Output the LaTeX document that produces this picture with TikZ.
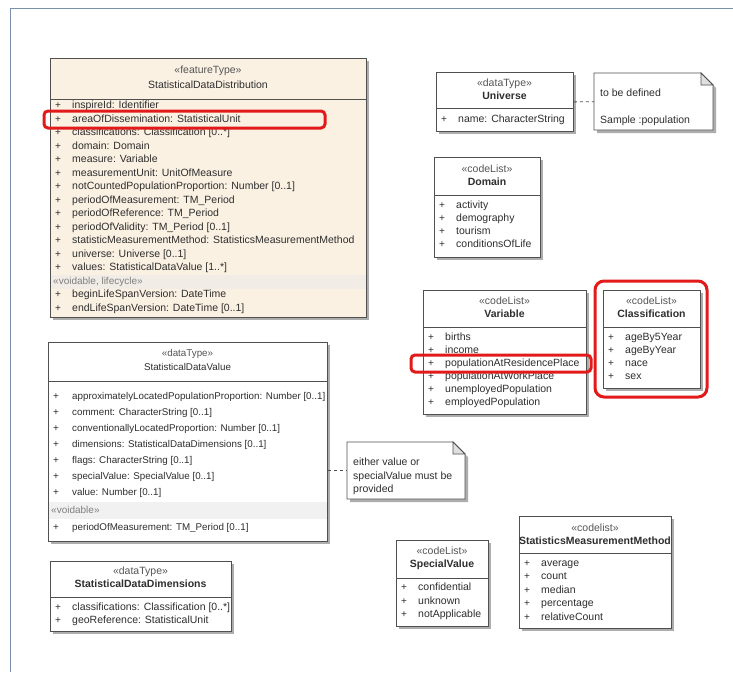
\documentclass[tikz,border=0pt]{standalone}
\usepackage{fontspec}
\setmainfont{Liberation Sans}
\usetikzlibrary{calc}
\definecolor{framec}{HTML}{7A90AA}
\definecolor{borderc}{HTML}{505050}
\definecolor{shadowc}{HTML}{ADADAD}
\definecolor{beige}{HTML}{FBF1E3}
\definecolor{beigeband}{HTML}{F1ECE6}
\definecolor{grayband}{HTML}{F1F1F1}
\definecolor{txt}{HTML}{2E2E2E}
\definecolor{stc}{HTML}{555555}
\definecolor{redc}{HTML}{E21A1A}
\tikzset{
  boxn/.style={draw=borderc, line width=0.8pt, inner sep=0pt, rectangle},
  sepl/.style={draw=borderc, line width=0.7pt},
  rown/.style={anchor=west, inner sep=0pt, text=txt, text height=7.5pt, text depth=2.2pt, font=\fontsize{10.5}{12}\selectfont},
  srown/.style={rown, font=\fontsize{9.8}{12}\selectfont},
  plusn/.style={anchor=center, inner sep=0pt, text=txt, font=\fontsize{10}{10}\selectfont},
  stereon/.style={anchor=center, inner sep=0pt, text=stc, text height=7.5pt, text depth=2.2pt, font=\fontsize{10.5}{12}\selectfont},
  namen/.style={anchor=center, inner sep=0pt, text=txt, text height=7.5pt, text depth=2.2pt, font=\fontsize{10.5}{12}\selectfont\bfseries},
  bandlab/.style={anchor=west, inner sep=0pt, text=gray, text height=7.5pt, text depth=2.2pt, font=\fontsize{10}{12}\selectfont},
  hilite/.style={draw=redc, line width=3pt, rounded corners=4pt},
  notel/.style={draw=borderc, line width=0.8pt, dash pattern=on 3pt off 3pt},
  noten/.style={inner sep=0pt, draw=none, rectangle, anchor=north west},
}
\newcommand\UMLBox[6]{%
  \fill[shadowc] (#2+3,#3+3) rectangle (#4+3,#5+3);
  \node[boxn, fill=#6, minimum width={#4-#2}, minimum height={#5-#3}, anchor=north west] (#1) at (#2,#3) {};
}
\newcommand\Sep[3]{\draw[sepl] (#1,#3) -- (#2,#3);}
\newcommand\Row[4]{%
  \node[plusn] (#1-p) at (#2+8,#3) {+};
  \node[rown] (#1) at (#2+22,#3) {#4};}
\newcommand\SRow[4]{%
  \node[plusn] (#1-p) at (#2+8,#3) {+};
  \node[srown] (#1) at (#2+24,#3) {#4};}
\newcommand\NoteShape[6]{% name x1 y1 x2 y2 fold
  \fill[shadowc] (#2+3,#3+3) -- (#4+3-#6,#3+3) -- (#4+3,#3+3+#6) -- (#4+3,#5+3) -- (#2+3,#5+3) -- cycle;
  \node[noten, minimum width={#4-#2}, minimum height={#5-#3}] (#1) at (#2,#3) {};
  \filldraw[draw=borderc, line width=0.8pt, fill=white] (#2,#3) -- (#4-#6,#3) -- (#4,#3+#6) -- (#4,#5) -- (#2,#5) -- cycle;
  \draw[borderc, line width=0.8pt, fill=black!12] (#4-#6,#3) -- (#4-#6,#3+#6) -- (#4,#3+#6) -- cycle;
}
\begin{document}
\begin{tikzpicture}[x=1pt,y=-1pt]
\useasboundingbox (0,0) rectangle (733,672);
\fill[white] (0,0) rectangle (733,672);
% frame
\draw[framec, line width=1pt] (10,672) -- (10,8) -- (733,8);

% ---------------- StatisticalDataDistribution
\UMLBox{ft}{50}{58}{366}{317}{beige}
\fill[beigeband] (50.5,274.5) rectangle (365.5,288.5);
\node[stereon] (ft-st) at (208,71) {«featureType»};
\node[stereon, text=txt] (ft-nm) at (208,86) {StatisticalDataDistribution};
\Sep{50}{366}{99}
\Row{ft1}{50}{106}{inspireId:  Identifier}
\Row{ft2}{50}{119.5}{areaOfDissemination:  StatisticalUnit}
\Row{ft3}{50}{133}{classifications:  Classification [0..*]}
\Row{ft4}{50}{146.5}{domain:  Domain}
\Row{ft5}{50}{160}{measure:  Variable}
\Row{ft6}{50}{173.5}{measurementUnit:  UnitOfMeasure}
\Row{ft7}{50}{187}{notCountedPopulationProportion:  Number [0..1]}
\Row{ft8}{50}{200.5}{periodOfMeasurement:  TM\_Period}
\Row{ft9}{50}{214}{periodOfReference:  TM\_Period}
\Row{ft10}{50}{227.5}{periodOfValidity:  TM\_Period [0..1]}
\Row{ft11}{50}{241}{statisticMeasurementMethod:  StatisticsMeasurementMethod}
\Row{ft12}{50}{254.5}{universe:  Universe [0..1]}
\Row{ft13}{50}{268}{values:  StatisticalDataValue [1..*]}
\node[bandlab] (ft-band) at (53,281.5) {«voidable, lifecycle»};
\Row{ft14}{50}{295}{beginLifeSpanVersion:  DateTime}
\Row{ft15}{50}{308.5}{endLifeSpanVersion:  DateTime [0..1]}
\draw[hilite] (44,111) rectangle (325,128);

% ---------------- StatisticalDataValue
\UMLBox{sdv}{48}{342}{327}{541}{white}
\fill[grayband] (48.5,502) rectangle (326.5,519);
\node[stereon] (sdv-st) at (187.5,354) {\fontsize{9.8}{12}\selectfont«dataType»};
\node[stereon, text=txt] (sdv-nm) at (187.5,368) {\fontsize{9.8}{12}\selectfont StatisticalDataValue};
\Sep{48}{327}{381}
\SRow{sv1}{48}{397}{approximatelyLocatedPopulationProportion:  Number [0..1]}
\SRow{sv2}{48}{413}{comment:  CharacterString [0..1]}
\SRow{sv3}{48}{429}{conventionallyLocatedProportion:  Number [0..1]}
\SRow{sv4}{48}{445}{dimensions:  StatisticalDataDimensions [0..1]}
\SRow{sv5}{48}{461}{flags:  CharacterString [0..1]}
\SRow{sv6}{48}{477}{specialValue:  SpecialValue [0..1]}
\SRow{sv7}{48}{493}{value:  Number [0..1]}
\node[bandlab] (sdv-band) at (51,510.5) {«voidable»};
\SRow{sv8}{48}{528}{periodOfMeasurement:  TM\_Period [0..1]}

% ---------------- StatisticalDataDimensions
\UMLBox{sdd}{50}{561}{231}{631}{white}
\node[stereon] (sdd-st) at (140.5,572) {«dataType»};
\node[namen] (sdd-nm) at (140.5,585) {StatisticalDataDimensions};
\Sep{50}{231}{597}
\Row{sd1}{50}{607.5}{classifications:  Classification [0..*]}
\Row{sd2}{50}{620.5}{geoReference:  StatisticalUnit}

% ---------------- Universe + note
\UMLBox{uni}{436}{72}{573}{131}{white}
\node[stereon] (uni-st) at (504.5,84) {«dataType»};
\node[namen] (uni-nm) at (504.5,97) {Universe};
\Sep{436}{573}{108}
\Row{un1}{436}{120}{name:  CharacterString}
\NoteShape{note1}{594}{73}{713}{130}{12}
\node[rown] (note1-a) at (600,94) {to be defined};
\node[rown] (note1-b) at (600,121) {Sample :population};
\draw[notel] (uni.east) -- (note1.west);

% ---------------- Domain
\UMLBox{dom}{434}{157}{540}{257}{white}
\node[stereon] (dom-st) at (487,170) {«codeList»};
\node[namen] (dom-nm) at (487,183) {Domain};
\Sep{434}{540}{195}
\Row{do1}{434}{205.5}{activity}
\Row{do2}{434}{218.5}{demography}
\Row{do3}{434}{231.5}{tourism}
\Row{do4}{434}{244.5}{conditionsOfLife}

% ---------------- Variable
\UMLBox{var}{423}{290}{586}{414}{white}
\node[stereon] (var-st) at (504.5,302) {«codeList»};
\node[namen] (var-nm) at (504.5,315) {Variable};
\Sep{423}{586}{327}
\Row{va1}{423}{337.5}{births}
\Row{va2}{423}{350.5}{income}
\Row{va3}{423}{363.5}{populationAtResidencePlace}
\Row{va4}{423}{376.5}{populationAtWorkPlace}
\Row{va5}{423}{389.5}{unemployedPopulation}
\Row{va6}{423}{402.5}{employedPopulation}
\draw[hilite] (411,355) rectangle (591,372);

% ---------------- Classification
\UMLBox{cls}{603}{290}{700}{388}{white}
\node[stereon] (cls-st) at (651.5,302) {«codeList»};
\node[namen] (cls-nm) at (651.5,315) {Classification};
\Sep{603}{700}{327}
\Row{cl1}{603}{337.5}{ageBy5Year}
\Row{cl2}{603}{350.5}{ageByYear}
\Row{cl3}{603}{363.5}{nace}
\Row{cl4}{603}{376.5}{sex}
\draw[hilite, rounded corners=9pt] (595,281) rectangle (707,397);

% ---------------- note 2
\NoteShape{note2}{347}{442}{465}{499}{12}
\node[rown] (note2-a) at (353,463) {either value or};
\node[rown] (note2-b) at (353,476.5) {specialValue must be};
\node[rown] (note2-c) at (353,490) {provided};
\draw[notel] (sdv.east |- note2.west) -- (note2.west);

% ---------------- SpecialValue
\UMLBox{spv}{396}{540}{488}{626}{white}
\node[stereon] (spv-st) at (442,552) {«codeList»};
\node[namen] (spv-nm) at (442,565) {SpecialValue};
\Sep{396}{488}{578}
\Row{sp1}{396}{588}{confidential}
\Row{sp2}{396}{601.5}{unknown}
\Row{sp3}{396}{615}{notApplicable}

% ---------------- StatisticsMeasurementMethod
\UMLBox{smm}{519}{516}{671}{628}{white}
\node[stereon] (smm-st) at (595,529) {«codelist»};
\node[namen] (smm-nm) at (595,542) {StatisticsMeasurementMethod};
\Sep{519}{671}{553}
\Row{sm1}{519}{563.5}{average}
\Row{sm2}{519}{577}{count}
\Row{sm3}{519}{590.5}{median}
\Row{sm4}{519}{604}{percentage}
\Row{sm5}{519}{617.5}{relativeCount}
\end{tikzpicture}
\end{document}
